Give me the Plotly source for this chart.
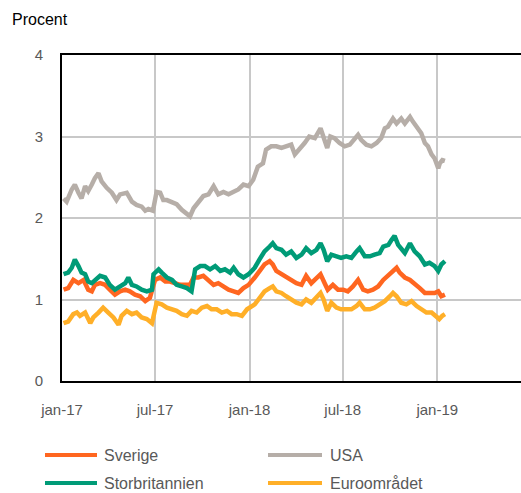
import plotly.graph_objects as go

# ---------------- data ----------------
usa_dates = ["2017-01-04","2017-01-10","2017-01-20","2017-01-26","2017-02-02","2017-02-08","2017-02-15",
             "2017-02-21","2017-02-28","2017-03-06","2017-03-13","2017-03-19","2017-03-29","2017-04-08",
             "2017-04-17","2017-04-24","2017-05-07","2017-05-17","2017-05-26","2017-06-05","2017-06-12",
             "2017-06-18","2017-06-27","2017-07-04","2017-07-11","2017-07-17","2017-07-24","2017-08-03",
             "2017-08-12","2017-08-22","2017-09-01","2017-09-07","2017-09-14","2017-09-23","2017-10-03",
             "2017-10-13","2017-10-23","2017-11-01","2017-11-11","2017-11-21","2017-12-01","2017-12-10",
             "2017-12-20","2017-12-30",
             "2018-01-08","2018-01-17","2018-01-27","2018-02-02","2018-02-12","2018-02-22","2018-03-04",
             "2018-03-13","2018-03-23","2018-03-30","2018-04-08","2018-04-18","2018-04-27","2018-05-08",
             "2018-05-19","2018-05-25","2018-06-01","2018-06-07","2018-06-15","2018-06-25","2018-07-05",
             "2018-07-15","2018-07-24","2018-07-31","2018-08-06","2018-08-16","2018-08-26","2018-09-05",
             "2018-09-14","2018-09-21","2018-09-27","2018-10-07","2018-10-14","2018-10-23","2018-10-30",
             "2018-11-09","2018-11-15","2018-11-25","2018-12-01","2018-12-08","2018-12-14","2018-12-21",
             "2018-12-27","2019-01-03","2019-01-06","2019-01-11","2019-01-16"]
usa = [2.24,2.20,2.35,2.41,2.31,2.24,2.39,2.33,2.41,2.49,2.55,2.45,2.37,2.31,2.22,2.29,2.31,2.20,2.16,
       2.14,2.09,2.11,2.09,2.32,2.31,2.22,2.22,2.20,2.17,2.10,2.06,2.02,2.12,2.20,2.27,2.29,2.39,2.29,
       2.32,2.29,2.33,2.35,2.41,2.39,
       2.47,2.63,2.67,2.84,2.88,2.88,2.86,2.88,2.90,2.78,2.84,2.92,3.00,2.98,3.10,2.98,2.86,3.00,2.98,
       2.92,2.88,2.90,2.96,3.02,2.96,2.90,2.88,2.92,2.98,3.10,3.12,3.22,3.16,3.22,3.16,3.24,3.18,3.08,
       3.04,2.92,2.88,2.78,2.73,2.61,2.67,2.71,2.70]

gb_dates = ["2017-01-04","2017-01-13","2017-01-20","2017-01-26","2017-02-02","2017-02-08","2017-02-15",
            "2017-02-21","2017-02-28","2017-03-06","2017-03-16","2017-03-26","2017-04-04","2017-04-14",
            "2017-04-24","2017-05-04","2017-05-10","2017-05-17","2017-05-26","2017-06-05","2017-06-15",
            "2017-06-25","2017-06-28","2017-07-08","2017-07-14","2017-07-24","2017-08-03","2017-08-12",
            "2017-08-22","2017-09-01","2017-09-10","2017-09-17","2017-09-27","2017-10-06","2017-10-16",
            "2017-10-26","2017-11-05","2017-11-14","2017-11-24","2017-12-01","2017-12-10","2017-12-20",
            "2017-12-30",
            "2018-01-11","2018-01-20","2018-01-30","2018-02-09","2018-02-15","2018-02-22","2018-03-04",
            "2018-03-13","2018-03-23","2018-04-02","2018-04-12","2018-04-21","2018-05-01","2018-05-11",
            "2018-05-19","2018-05-25","2018-06-01","2018-06-09","2018-06-19","2018-06-28","2018-07-08",
            "2018-07-18","2018-07-28","2018-08-03","2018-08-13","2018-08-23","2018-09-01","2018-09-11",
            "2018-09-18","2018-09-28","2018-10-04","2018-10-10","2018-10-17","2018-10-23","2018-10-30",
            "2018-11-09","2018-11-18","2018-11-28","2018-12-08","2018-12-17","2018-12-27","2019-01-03",
            "2019-01-09","2019-01-16"]
gb = [1.31,1.33,1.39,1.49,1.41,1.33,1.31,1.22,1.20,1.24,1.29,1.27,1.18,1.12,1.16,1.20,1.27,1.18,1.16,
      1.12,1.10,1.12,1.31,1.37,1.33,1.27,1.24,1.18,1.16,1.14,1.10,1.37,1.41,1.41,1.37,1.41,1.35,1.37,
      1.33,1.39,1.31,1.27,1.31,
      1.39,1.49,1.59,1.65,1.69,1.63,1.61,1.55,1.59,1.51,1.55,1.63,1.57,1.61,1.69,1.61,1.47,1.55,1.53,
      1.51,1.53,1.51,1.59,1.63,1.53,1.53,1.55,1.57,1.65,1.67,1.73,1.78,1.67,1.63,1.57,1.69,1.59,1.53,
      1.43,1.45,1.41,1.35,1.43,1.47]

se_dates = ["2017-01-04","2017-01-13","2017-01-23","2017-02-02","2017-02-12","2017-02-21","2017-02-28",
            "2017-03-06","2017-03-16","2017-03-26","2017-04-04","2017-04-14","2017-04-24","2017-05-04",
            "2017-05-13","2017-05-23","2017-06-02","2017-06-12","2017-06-21","2017-07-01","2017-07-11",
            "2017-07-21","2017-07-30","2017-08-09","2017-08-19","2017-08-29","2017-09-07","2017-09-14",
            "2017-09-23","2017-10-03","2017-10-13","2017-10-23","2017-11-01","2017-11-11","2017-11-21",
            "2017-12-01","2017-12-10","2017-12-20","2017-12-30",
            "2018-01-11","2018-01-20","2018-01-30","2018-02-09","2018-02-15","2018-02-22","2018-03-04",
            "2018-03-13","2018-03-23","2018-04-02","2018-04-12","2018-04-21","2018-05-01","2018-05-11",
            "2018-05-19","2018-05-27","2018-06-02","2018-06-12","2018-06-22","2018-07-02","2018-07-11",
            "2018-07-21","2018-07-31","2018-08-10","2018-08-19","2018-08-29","2018-09-08","2018-09-18",
            "2018-09-27","2018-10-07","2018-10-14","2018-10-20","2018-10-30","2018-11-09","2018-11-18",
            "2018-11-28","2018-12-08","2018-12-17","2018-12-27","2019-01-03","2019-01-09","2019-01-16"]
se = [1.12,1.14,1.24,1.20,1.24,1.12,1.10,1.18,1.20,1.18,1.12,1.06,1.10,1.12,1.10,1.06,1.04,0.98,1.02,
      1.24,1.27,1.22,1.22,1.20,1.18,1.18,1.18,1.27,1.27,1.29,1.24,1.18,1.20,1.16,1.12,1.10,1.08,1.14,
      1.18,
      1.27,1.35,1.43,1.47,1.43,1.35,1.31,1.29,1.24,1.20,1.18,1.29,1.20,1.27,1.31,1.20,1.12,1.18,1.12,
      1.12,1.10,1.16,1.24,1.12,1.10,1.12,1.16,1.24,1.29,1.35,1.39,1.33,1.27,1.24,1.20,1.14,1.08,1.08,
      1.08,1.10,1.04,1.06]

eu_dates = ["2017-01-04","2017-01-13","2017-01-23","2017-01-30","2017-02-05","2017-02-15","2017-02-25",
            "2017-03-03","2017-03-13","2017-03-22","2017-04-01","2017-04-11","2017-04-21","2017-04-27",
            "2017-05-07","2017-05-17","2017-05-26","2017-06-05","2017-06-15","2017-06-25","2017-07-04",
            "2017-07-14","2017-07-24","2017-08-03","2017-08-12","2017-08-22","2017-09-01","2017-09-10",
            "2017-09-20","2017-09-30","2017-10-10","2017-10-19","2017-10-29","2017-11-08","2017-11-18",
            "2017-11-27","2017-12-07","2017-12-17","2017-12-27",
            "2018-01-11","2018-01-20","2018-01-30","2018-02-09","2018-02-15","2018-02-22","2018-03-04",
            "2018-03-13","2018-03-23","2018-04-02","2018-04-12","2018-04-21","2018-05-01","2018-05-11",
            "2018-05-19","2018-05-25","2018-06-01","2018-06-09","2018-06-19","2018-06-28","2018-07-08",
            "2018-07-18","2018-07-28","2018-08-03","2018-08-13","2018-08-23","2018-09-01","2018-09-11",
            "2018-09-21","2018-10-01","2018-10-07","2018-10-14","2018-10-23","2018-11-02","2018-11-12",
            "2018-11-22","2018-12-01","2018-12-11","2018-12-21","2018-12-30","2019-01-05","2019-01-11",
            "2019-01-16"]
eu = [0.71,0.73,0.82,0.84,0.80,0.84,0.71,0.78,0.84,0.90,0.84,0.78,0.69,0.80,0.86,0.82,0.84,0.78,0.76,
      0.71,0.96,0.94,0.90,0.88,0.86,0.82,0.80,0.86,0.84,0.90,0.92,0.88,0.88,0.84,0.86,0.82,0.82,0.80,
      0.88,
      0.94,1.02,1.10,1.14,1.16,1.10,1.08,1.04,1.00,0.96,0.94,1.00,0.96,1.02,1.08,1.00,0.86,0.96,0.90,
      0.88,0.88,0.88,0.92,0.96,0.88,0.88,0.90,0.94,0.98,1.04,1.08,1.04,0.96,0.94,0.98,0.92,0.88,0.84,
      0.84,0.80,0.76,0.80,0.82]

tick_vals = ["2017-01-01", "2017-07-01", "2018-01-01", "2018-07-01", "2019-01-01", "2019-07-01"]
tick_text = ["jan-17", "jul-17", "jan-18", "jul-18", "jan-19", "jul-19"]

series_names = ["Sverige", "USA", "Storbritannien", "Euroområdet"]
series_colors = ["#FF6620", "#B6AEA8", "#009B77", "#FFAF28"]
series_data = [(se_dates, se), (usa_dates, usa), (gb_dates, gb), (eu_dates, eu)]

# ---------------- layout constants (pixels) ----------------
W, H = 521, 493
ML, MR, MT, MB = 62, 0, 55, 112
PW, PH = W - ML - MR, H - MT - MB

def px_x(px):
    return (px - ML) / PW

def px_y(py):
    return (H - MB - py) / PH

font_family = "Liberation Sans, Arial, sans-serif"

fig = go.Figure()
for i in [1, 3, 0, 2]:
    d, v = series_data[i]
    fig.add_trace(go.Scatter(x=d, y=v, name=series_names[i], mode="lines",
                             line=dict(color=series_colors[i], width=4.5), showlegend=False,
                             hoverinfo="skip"))

# manual legend (2 columns x 2 rows)
legend_cols = [(45, 97, 102), (268, 322, 328)]
legend_rows = [455, 483]
shapes, annos = [], []
for k, name in enumerate(series_names):
    col = legend_cols[k % 2]
    row = legend_rows[k // 2]
    shapes.append(dict(type="line", xref="paper", yref="paper",
                       x0=px_x(col[0]), x1=px_x(col[1]), y0=px_y(row), y1=px_y(row),
                       line=dict(color=series_colors[k], width=4)))
    annos.append(dict(text=name, xref="paper", yref="paper", x=px_x(col[2]), y=px_y(row),
                      xanchor="left", yanchor="middle", showarrow=False,
                      font=dict(size=16, color="#595959", family=font_family)))
annos.append(dict(text="Procent", xref="paper", yref="paper", x=px_x(10), y=px_y(20),
                  xanchor="left", yanchor="middle", showarrow=False,
                  font=dict(size=16, color="#000000", family=font_family)))

fig.update_layout(
    width=W, height=H,
    margin=dict(l=ML, r=MR, t=MT, b=MB, autoexpand=False),
    paper_bgcolor="white", plot_bgcolor="white",
    font=dict(family=font_family, size=15, color="#595959"),
    showlegend=False,
    shapes=shapes, annotations=annos,
)

fig.update_xaxes(
    type="date", range=["2017-01-01", "2019-06-13"],
    tickvals=tick_vals, ticktext=tick_text,
    showgrid=True, gridcolor="#C8C8C8", gridwidth=1.5,
    showline=True, linecolor="#000000", linewidth=2, mirror=True,
    ticks="", ticklabelstandoff=14, tickfont=dict(size=15, color="#595959"),
    zeroline=False, automargin=False,
)
fig.update_yaxes(
    range=[0, 4], tickvals=[0, 1, 2, 3, 4],
    showgrid=True, gridcolor="#C8C8C8", gridwidth=1.5,
    showline=True, linecolor="#000000", linewidth=2, mirror=False,
    ticks="", ticklabelstandoff=14, tickfont=dict(size=15, color="#595959"),
    zeroline=False, automargin=False,
)

fig.write_html("out.html", config={"displayModeBar": False},
               post_script="document.body.style.margin='0';document.body.style.overflow='hidden';")
